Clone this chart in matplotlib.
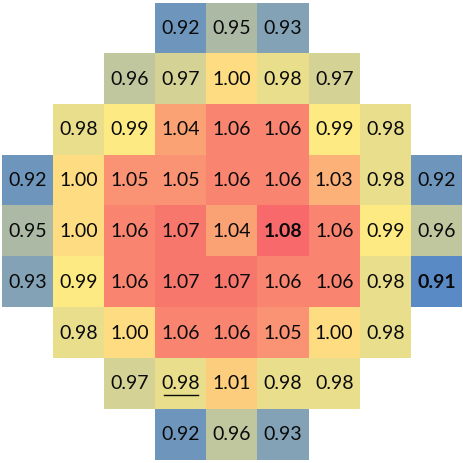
import numpy as np
import matplotlib.pyplot as plt
from matplotlib.colors import LinearSegmentedColormap, TwoSlopeNorm

# radial power map, None = no assembly
rows = [
    [None, None, None, 0.92, 0.95, 0.93, None, None, None],
    [None, None, 0.96, 0.97, 1.00, 0.98, 0.97, None, None],
    [None, 0.98, 0.99, 1.04, 1.06, 1.06, 0.99, 0.98, None],
    [0.92, 1.00, 1.05, 1.05, 1.06, 1.06, 1.03, 0.98, 0.92],
    [0.95, 1.00, 1.06, 1.07, 1.04, 1.08, 1.06, 0.99, 0.96],
    [0.93, 0.99, 1.06, 1.07, 1.07, 1.06, 1.06, 0.98, 0.91],
    [None, 0.98, 1.00, 1.06, 1.06, 1.05, 1.00, 0.98, None],
    [None, None, 0.97, 0.98, 1.01, 0.98, 0.98, None, None],
    [None, None, None, 0.92, 0.96, 0.93, None, None, None],
]
bold_cells = [(4, 5), (5, 8)]      # max and min
underline_cells = [(7, 3)]

vals = np.array([[np.nan if v is None else v for v in r] for r in rows])
data = np.ma.masked_invalid(vals)

cmap = LinearSegmentedColormap.from_list("ryb", ["#5A8AC6", "#FFEB84", "#F8696B"])
norm = TwoSlopeNorm(vmin=0.91, vcenter=0.99, vmax=1.08)

fig = plt.figure(figsize=(4.64, 4.63), dpi=100)
ax = fig.add_axes([2 / 464, 3 / 463, 460 / 464, 457 / 463])
ax.imshow(data, cmap=cmap, norm=norm, interpolation="nearest", aspect="auto",
          extent=(-0.5, 8.5, 8.5, -0.5))
ax.set_xlim(-0.5, 8.5)
ax.set_ylim(8.5, -0.5)
ax.axis("off")

for i, r in enumerate(rows):
    for j, v in enumerate(r):
        if v is None:
            continue
        weight = "bold" if (i, j) in bold_cells else "normal"
        ax.text(j, i, f"{v:.2f}", ha="center", va="center", fontsize=14,
                fontweight=weight, family="Lato", color="#0a0a0a")
        if (i, j) in underline_cells:
            ax.plot([j - 0.33, j + 0.33], [i + 0.22, i + 0.22], color="#0a0a0a", lw=1)

fig.savefig("out.png", dpi=100)
